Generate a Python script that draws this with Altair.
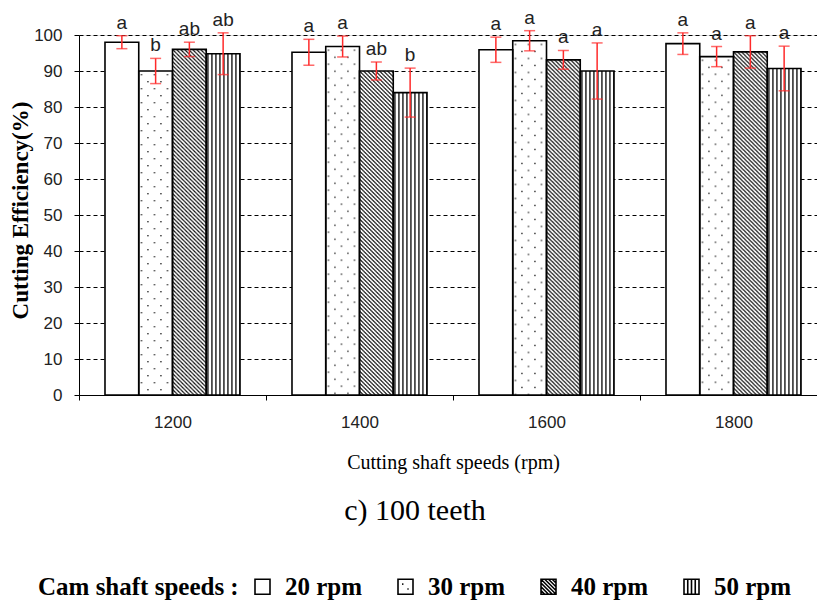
import base64
import altair as alt
import pandas as pd

# ---------------- data ----------------
cutting = ["1200", "1400", "1600", "1800"]
cam = ["20 rpm", "30 rpm", "40 rpm", "50 rpm"]
eff = [
    [98.0, 90.0, 96.0, 94.8],
    [95.2, 96.8, 90.0, 84.0],
    [95.9, 98.4, 93.1, 90.0],
    [97.6, 94.0, 95.3, 90.7],
]
err = [
    [1.8, 3.5, 2.0, 5.8],
    [3.6, 2.9, 2.5, 6.8],
    [3.5, 2.8, 2.6, 7.8],
    [3.0, 2.8, 4.5, 6.2],
]
letters = [
    ["a", "b", "ab", "ab"],
    ["a", "a", "ab", "b"],
    ["a", "a", "a", "a"],
    ["a", "a", "a", "a"],
]
y_ticks = [0, 10, 20, 30, 40, 50, 60, 70, 80, 90, 100]

rows = []
for i, c in enumerate(cutting):
    for j, s in enumerate(cam):
        rows.append({"cut": c, "cam": s, "eff": eff[i][j],
                     "lo": eff[i][j] - err[i][j], "hi": eff[i][j] + err[i][j],
                     "letter": letters[i][j]})
df = pd.DataFrame(rows)

# ---------------- pattern images ----------------
def svg_uri(pattern):
    svg = ('<svg xmlns="http://www.w3.org/2000/svg" width="100%" height="100%">'
           '<defs>' + pattern + '</defs>'
           '<rect width="100%" height="100%" fill="#ffffff"/>'
           '<rect width="100%" height="100%" fill="url(#p)"/></svg>')
    return "data:image/svg+xml;base64," + base64.b64encode(svg.encode()).decode()

dots_uri = svg_uri('<pattern id="p" width="13" height="14" patternUnits="userSpaceOnUse">'
                   '<rect x="2" y="3" width="1.4" height="1.4" fill="#333"/>'
                   '<rect x="8.5" y="10" width="1.4" height="1.4" fill="#333"/></pattern>')
diag_uri = svg_uri('<pattern id="p" width="4" height="4" patternUnits="userSpaceOnUse">'
                   '<path d="M-1,-1 L5,5 M-1,3 L1,5 M3,-1 L5,1" stroke="#111" stroke-width="1.2"/></pattern>')
vert_uri = svg_uri('<pattern id="p" width="4" height="10" patternUnits="userSpaceOnUse">'
                   '<rect x="1" y="0" width="1.3" height="10" fill="#111"/></pattern>')

sq = "M-1,-1H1V1H-1Z"
shape_paths = [
    sq,
    sq + " M-0.45,-0.35H-0.28 M0.25,0.3H0.42",
    sq + (" M-1,0.5L-0.5,1 M-1,0L0,1 M-1,-0.5L0.5,1 M-1,-1L1,1"
          " M-0.5,-1L1,0.5 M0,-1L1,0 M0.5,-1L1,-0.5"),
    sq + " M-0.5,-1V1 M0,-1V1 M0.5,-1V1",
]

SANS = "Liberation Sans Narrow, Arial Narrow, Liberation Sans, sans-serif"
SERIF = "Liberation Serif"

yscale = alt.Scale(domain=[0, 100], nice=False)
yaxis = alt.Axis(values=y_ticks, tickCount=11, title="Cutting Efficiency(%)",
                 titleFont=SERIF, titleFontSize=23, titleFontWeight="bold",
                 titleColor="black", titleX=-59, titleY=175,
                 titleBaseline="middle", titleAlign="center", titleAngle=270,
                 labelFont=SANS, labelFontSize=17, labelColor="#222",
                 labelPadding=12, labelOverlap=False, tickSize=5, tickColor="black",
                 domainColor="black", grid=True, gridColor="black",
                 gridDash=[4, 3], gridWidth=1)


def Y(field):
    return alt.Y(field, type="quantitative", scale=yscale, axis=yaxis)


base = alt.Chart(df).encode(
    x=alt.X("cut:N",
            scale=alt.Scale(domain=cutting, range=[0, 748], paddingInner=0, paddingOuter=0),
            axis=alt.Axis(title="Cutting shaft speeds (rpm)", titleFont=SERIF, titleFontSize=20,
                          titleFontWeight="normal", titleColor="black",
                          titleY=73, titleBaseline="alphabetic",
                          labelFont=SANS, labelFontSize=17, labelColor="#222",
                          labelPadding=14, labelAngle=0,
                          tickBand="extent", tickSize=5, tickColor="black",
                          domainColor="black", grid=False)),
    xOffset=alt.XOffset("cam:N", scale=alt.Scale(domain=cam, paddingInner=0, paddingOuter=0.77)),
)

white_bars = base.mark_bar(fill="white", strokeWidth=0).encode(y=Y("eff"), y2=alt.datum(0))


def img_layer(uri, name):
    return base.mark_image(url=uri, aspect=False).encode(
        y=Y("eff"), y2=alt.datum(0)
    ).transform_filter(alt.datum.cam == name)


outline = base.mark_bar(fillOpacity=0, stroke="black", strokeWidth=1.6).encode(
    y=Y("eff"), y2=alt.datum(0))

rules = base.mark_rule(color="#ff2a2a", strokeWidth=1.5).encode(y=Y("lo"), y2="hi:Q")
cap_hi = base.mark_tick(color="#ff2a2a", size=11, thickness=1.5, orient="horizontal").encode(y=Y("hi"))
cap_lo = base.mark_tick(color="#ff2a2a", size=11, thickness=1.5, orient="horizontal").encode(y=Y("lo"))

texts = base.mark_text(baseline="alphabetic", dy=-7, font=SANS, fontSize=19,
                       color="#222").encode(y=Y("hi"), text="letter:N")

legend_pts = base.mark_point(opacity=0, filled=False, color="black").encode(
    y=Y("eff"),
    shape=alt.Shape("cam:N",
                    scale=alt.Scale(domain=cam, range=shape_paths),
                    legend=alt.Legend(
                        title="Cam shaft speeds :", orient="none", legendX=-41, legendY=539,
                        direction="horizontal", titleOrient="left",
                        titleFont=SERIF, titleFontSize=25, titleFontWeight="bold",
                        titleColor="black", titlePadding=11,
                        labelFont=SERIF, labelFontSize=25, labelFontWeight="bold",
                        labelColor="black", labelOffset=10, columnPadding=30,
                        symbolSize=225, symbolStrokeWidth=1.6, symbolStrokeColor="black",
                        symbolFillColor="white", symbolOpacity=1,
                        labelLimit=200, titleLimit=300)),
)

chart = alt.layer(
    white_bars,
    img_layer(dots_uri, "30 rpm"),
    img_layer(diag_uri, "40 rpm"),
    img_layer(vert_uri, "50 rpm"),
    outline, rules, cap_hi, cap_lo, texts, legend_pts,
).properties(
    width=738, height=360,
    padding={"left": 79, "top": 35, "right": 0, "bottom": 207},
    autosize=alt.AutoSizeParams(type="none"),
    title=alt.TitleParams("c) 100 teeth", orient="bottom", font=SERIF, fontSize=30,
                          fontWeight="normal", color="black", anchor="middle", dx=-33, offset=-104),
).configure_view(stroke=None).configure(background="white")

chart.save("out.html", embed_options={"renderer": "svg", "actions": False})
